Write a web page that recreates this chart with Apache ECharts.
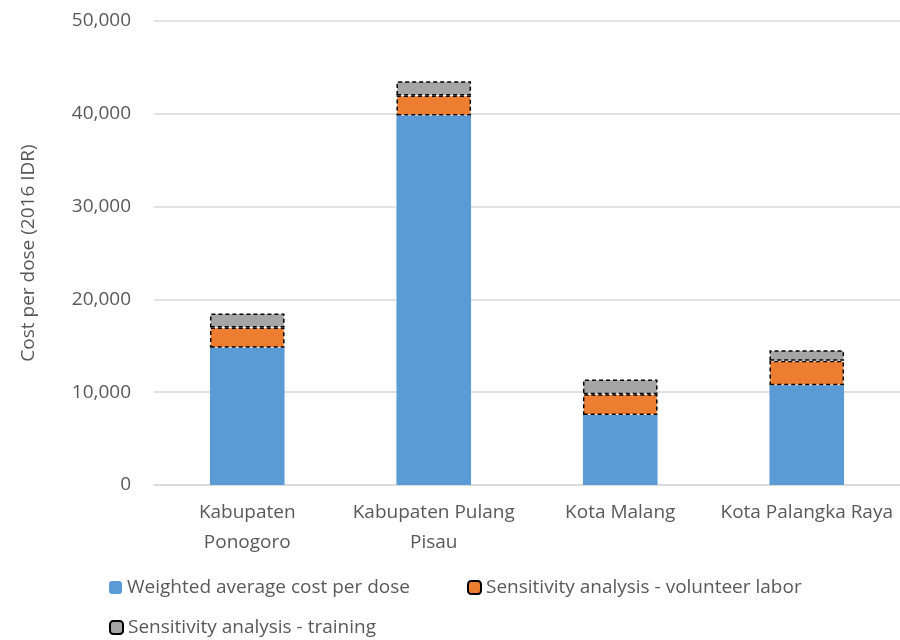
<!DOCTYPE html>
<html>
<head>
<meta charset="utf-8">
<script src="https://cdn.jsdelivr.net/npm/echarts@6/dist/echarts.min.js"></script>
<style>html,body{margin:0;padding:0;background:#fff}#c{width:900px;height:640px}</style>
</head>
<body>
<div id="c"></div>
<script>
var categories = ['Kabupaten\nPonogoro', 'Kabupaten Pulang\nPisau', 'Kota Malang', 'Kota Palangka Raya'];
var seriesNames = ['Weighted average cost per dose', 'Sensitivity analysis - volunteer labor', 'Sensitivity analysis - training'];
var weightedAvg = [14780, 39820, 7530, 10760];
var volunteerLabor = [2200, 2150, 2260, 2620];
var training = [1510, 1540, 1580, 1150];
var yTicks = [0, 10000, 20000, 30000, 40000, 50000];

var font = 'Open Sans';
var fs = 19;
var txt = '#595959';
function fmt(v){ return String(v).replace(/\B(?=(\d{3})+(?!\d))/g, ','); }

var chart = echarts.init(document.getElementById('c'), null, {renderer:'canvas'});
var dashed = {borderColor:'#000', borderWidth:1.5, borderType:[4,3]};
var lt = {fontFamily:font, fontSize:fs, color:txt};
chart.setOption({
  animation:false,
  backgroundColor:'#fff',
  grid:{left:154, right:0, top:21, bottom:155},
  legend:[
    {data:[seriesNames[0]], left:104, top:573, itemWidth:13, itemHeight:13, itemGap:0, textStyle:lt},
    {data:[seriesNames[1]], left:462, top:573, itemWidth:13, itemHeight:13, itemGap:0, textStyle:lt},
    {data:[seriesNames[2]], left:104, top:613, itemWidth:13, itemHeight:13, itemGap:0, textStyle:lt}
  ],
  xAxis:{type:'category', data:categories,
    axisLine:{lineStyle:{color:'#d9d9d9', width:1.5}}, axisTick:{show:false},
    axisLabel:{fontFamily:font, fontSize:fs, color:txt, lineHeight:30, margin:13, interval:0}},
  yAxis:{type:'value', min:yTicks[0], max:yTicks[yTicks.length-1], interval:yTicks[1]-yTicks[0],
    name:'Cost per dose (2016 IDR)', nameLocation:'middle', nameGap:116, nameRotate:90,
    nameTextStyle:{fontFamily:font, fontSize:fs, color:txt},
    axisLine:{show:false}, axisTick:{show:false},
    splitLine:{lineStyle:{color:'#d9d9d9', width:1.5}},
    axisLabel:{fontFamily:font, fontSize:fs, color:txt, margin:23, formatter:fmt}},
  series:[
    {name:seriesNames[0], type:'bar', stack:'t', data:weightedAvg, barWidth:'40%', itemStyle:{color:'#5b9bd5'}},
    {name:seriesNames[1], type:'bar', stack:'t', data:volunteerLabor, barWidth:'40%', itemStyle:Object.assign({color:'#ed7d31'}, dashed)},
    {name:seriesNames[2], type:'bar', stack:'t', data:training, barWidth:'40%', itemStyle:Object.assign({color:'#a5a5a5'}, dashed)}
  ]
});
</script>
</body>
</html>
